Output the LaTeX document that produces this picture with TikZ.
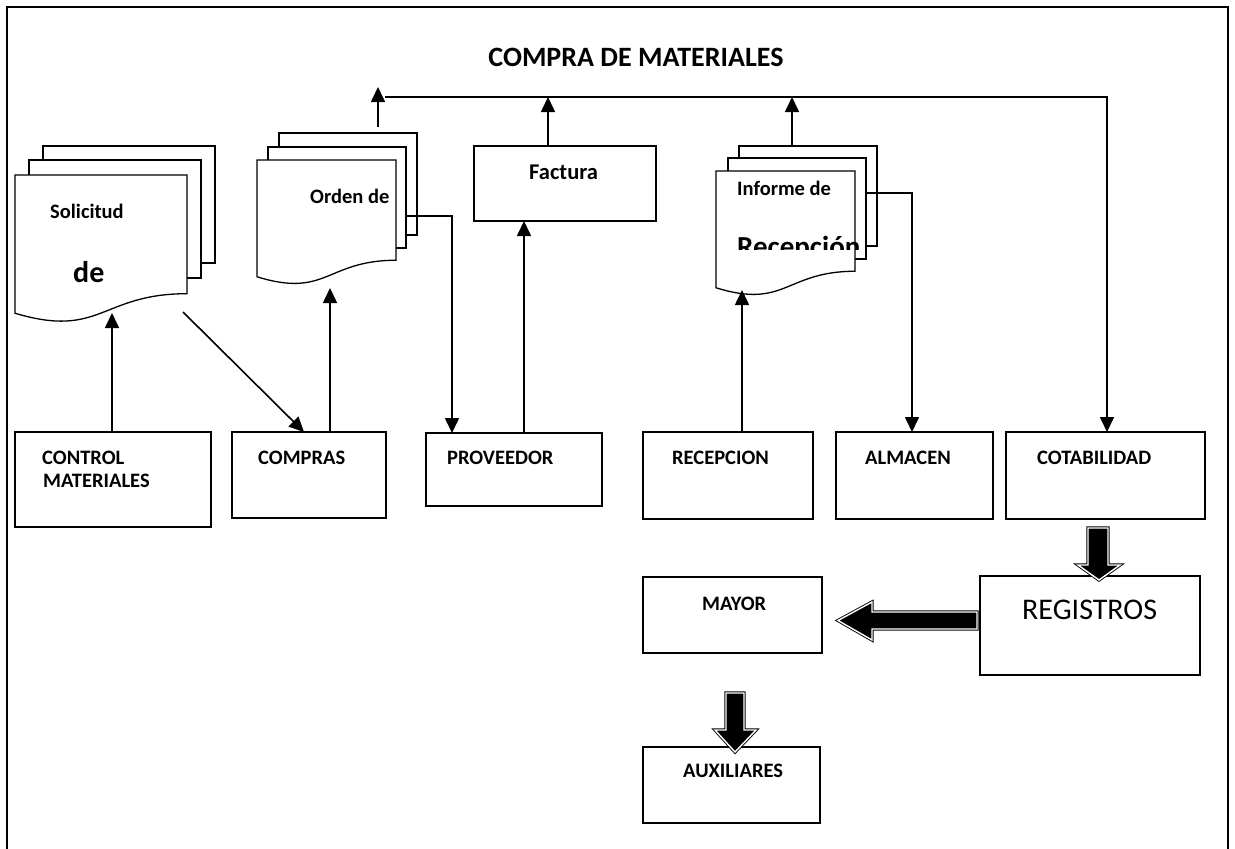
\documentclass[tikz,border=0pt]{standalone}
\usepackage{fontspec}
\setmainfont{Carlito}
\usetikzlibrary{arrows.meta}

% Front page of a document symbol: left, right, top, height (y grows downwards)
\newcommand\docfront[4]{%
  \draw[page] (#1,#3) -- (#2,#3) -- (#2,{#3+0.802*#4})
    .. controls ({(#1+#2)/2},{#3+0.802*#4}) and ({(#1+#2)/2},{#3+1.1075*#4}) ..
    (#1,{#3+0.934*#4}) -- cycle;}
% Sheet lying behind the front page: left, right, top, bottom
\newcommand\docsheet[4]{\draw[page] (#1,#3) rectangle (#2,#4);}

\begin{document}
\begin{tikzpicture}[x=1pt,y=-1pt,
  box/.style={draw, line width=2.6pt, inner sep=0pt, outer sep=0pt, anchor=north west},
  thinbox/.style={draw, line width=1.3pt, inner sep=0pt, outer sep=0pt, anchor=north west},
  lbl/.style={anchor=base west, inner sep=0pt, font=\fontsize{20.5}{22}\selectfont\bfseries},
  doclbl/.style={anchor=base west, inner sep=0pt, font=\fontsize{20.5}{22}\selectfont\bfseries},
  biglbl/.style={anchor=base west, inner sep=0pt, font=\fontsize{29}{31}\selectfont\bfseries},
  conn/.style={line width=1.6pt, -{Triangle[width=14pt,length=15pt]}},
  page/.style={draw, fill=white, line width=1.3pt, line join=miter},
  block/.style={fill=black, draw=black, line width=0.9pt, double=white,
    double distance=1.4pt, line join=miter}
]
\useasboundingbox (0,0) rectangle (1235,849);

% outer frame
\draw[line width=1.8pt] (7,849) -- (7,7) -- (1228,7) -- (1228,849);

% title
\node[anchor=base, inner sep=0pt, font=\fontsize{28}{30}\selectfont\bfseries]
  (title) at (636,66) {COMPRA DE MATERIALES};

% ---- documents ----
% Solicitud de ...
\docsheet{43}{215}{146}{263}
\docsheet{29}{201}{160}{278}
\docfront{15}{187}{175}{148}
\node[doclbl] (sol-t1) at (50,218) {Solicitud};
\node[biglbl, font=\fontsize{30}{32}\selectfont\bfseries] (sol-t2) at (73,282) {de};

% Orden de ...
\docsheet{279}{417}{133}{235}
\docsheet{268}{406}{147}{248}
\docfront{257}{396}{160}{125}
\node[doclbl] (ord-t1) at (310,203) {Orden de};

% Factura
\node[thinbox, minimum width=182pt, minimum height=75pt] (fac) at (474,146) {};
\node[doclbl, font=\fontsize{22.5}{24}\selectfont\bfseries] (fac-t) at (529,179) {Factura};

% Informe de Recepción
\docsheet{739}{877}{146}{246}
\docsheet{728}{866}{158}{259}
\docfront{716}{855}{171}{125}
\node[doclbl] (inf-t1) at (737,195) {Informe de};
\begin{scope}
  \clip (720,228) rectangle (870,249.5);
  \node[biglbl] (inf-t2) at (737,256) {Recepción};
\end{scope}

% ---- departments ----
\node[box, minimum width=196pt, minimum height=95pt] (ctrl) at (15,432) {};
\node[lbl] (ctrl-t1) at (42,464) {CONTROL};
\node[lbl] (ctrl-t2) at (43,487) {MATERIALES};

\node[box, minimum width=154pt, minimum height=86pt] (cmp) at (232,432) {};
\node[lbl] (cmp-t) at (258,464) {COMPRAS};

\node[box, minimum width=176pt, minimum height=73pt] (prov) at (426,433) {};
\node[lbl] (prov-t) at (447,464) {PROVEEDOR};

\node[box, minimum width=170pt, minimum height=87pt] (recep) at (643,432) {};
\node[lbl] (recep-t) at (672,464) {RECEPCION};

\node[box, minimum width=157pt, minimum height=87pt] (alm) at (836,432) {};
\node[lbl] (alm-t) at (865,464) {ALMACEN};

\node[box, minimum width=199pt, minimum height=87pt] (cont) at (1006,432) {};
\node[lbl] (cont-t) at (1037,464) {COTABILIDAD};

% ---- books ----
\node[box, minimum width=220pt, minimum height=99pt] (reg) at (980,576) {};
\node[anchor=base west, inner sep=0pt, font=\fontsize{30}{32}\selectfont]
  (reg-t) at (1022,619) {REGISTROS};

\node[thinbox, minimum width=179pt, minimum height=76pt] (may) at (643,577) {};
\node[lbl] (may-t) at (702,610) {MAYOR};

\node[thinbox, minimum width=177pt, minimum height=76pt] (aux) at (643,747) {};
\node[lbl] (aux-t) at (683,777) {AUXILIARES};

% ---- connection points on the documents ----
\coordinate (sol-in)   at (112,313);
\coordinate (sol-out)  at (183,312);
\coordinate (cmp-in)   at (304,432);
\coordinate (ord-in)   at (330,288);
\coordinate (ord-top)  at (378,127);
\coordinate (ord-tip)  at (378,87);
\coordinate (ord-out)  at (406,216);
\coordinate (ord-turn) at (452,216);
\coordinate (fac-in)   at (524,221);
\coordinate (fac-out)  at (548,146);
\coordinate (inf-in)   at (742,290);
\coordinate (inf-out)  at (792,146);
\coordinate (inf-side) at (866,193);
\coordinate (inf-turn) at (912,193);
\coordinate (bus-w)    at (385,97);
\coordinate (bus-e)    at (1107,97);

% ---- flows ----
\draw[conn] (sol-in |- ctrl.north) -- (sol-in);
\draw[conn] (sol-out) -- (cmp-in);
\draw[conn] (ord-in |- cmp.north) -- (ord-in);
\draw[conn] (ord-top) -- (ord-tip);
\draw[conn] (ord-out) -- (ord-turn) -- (ord-turn |- prov.north);
\draw[conn] (fac-in |- prov.north) -- (fac-in);
\draw[conn] (fac-out) -- (fac-out |- bus-w);
\draw[conn] (inf-out) -- (inf-out |- bus-w);
\draw[conn] (inf-in |- recep.north) -- (inf-in);
\draw[conn] (inf-side) -- (inf-turn) -- (inf-turn |- alm.north);
\draw[conn] (bus-w) -- (bus-e) -- (bus-e |- cont.north);

% ---- block arrows between the books ----
\draw[block] (1088,528) -- (1108,528) -- (1108,565) -- (1120,565) -- (1099,580)
  -- (1078,565) -- (1088,565) -- cycle;
\draw[block] (977,612) -- (977,629) -- (872,629) -- (872,640) -- (838,620.5)
  -- (872,602) -- (872,612) -- cycle;
\draw[block] (726,693) -- (744,693) -- (744,730) -- (756,730) -- (735,752)
  -- (715,730) -- (726,730) -- cycle;
\end{tikzpicture}
\end{document}
